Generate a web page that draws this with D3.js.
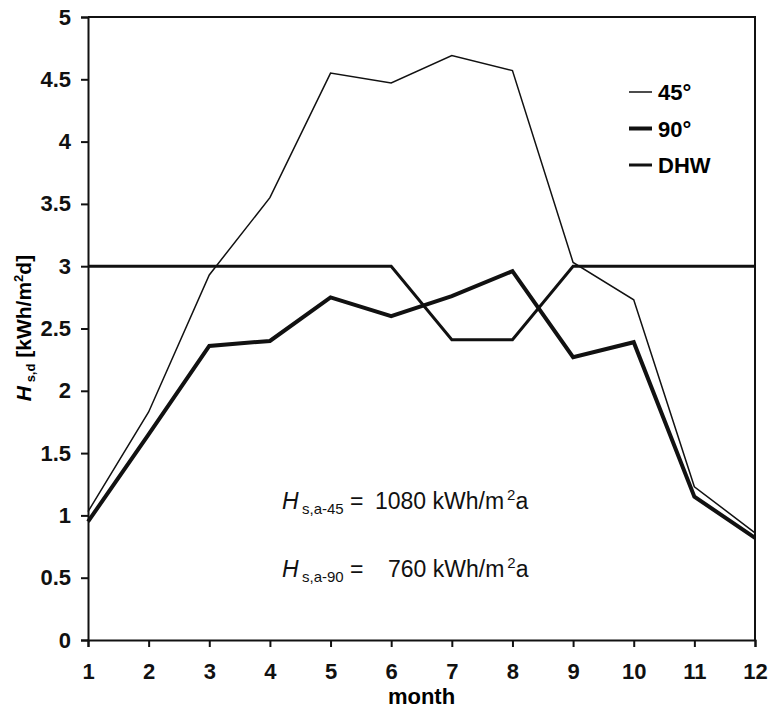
<!DOCTYPE html>
<html>
<head>
<meta charset="utf-8">
<script src="https://cdn.jsdelivr.net/npm/d3@7"></script>
<style>
  body { margin: 0; background: #fff; }
  text { font-family: "Liberation Sans", Arial, sans-serif; }
</style>
</head>
<body>
<svg width="769" height="708"></svg>
<script>
// data
const months = [1, 2, 3, 4, 5, 6, 7, 8, 9, 10, 11, 12]
const tilt45 = [1.03, 1.83, 2.93, 3.55, 4.55, 4.47, 4.69, 4.57, 3.03, 2.73, 1.23, 0.86]
const tilt90 = [0.95, 1.65, 2.36, 2.40, 2.75, 2.60, 2.76, 2.96, 2.27, 2.39, 1.15, 0.82]
const dhw = [3, 3, 3, 3, 3, 3, 2.41, 2.41, 3, 3, 3, 3]
const yTicks = [0, 0.5, 1, 1.5, 2, 2.5, 3, 3.5, 4, 4.5, 5]
const seriesNames = ["45°", "90°", "DHW"]

let svg = d3.select("svg")

let x = d3.scaleLinear().domain([1, 12]).range([88, 755])
let y = d3.scaleLinear().domain([0, 5]).range([640, 17])

// frame: top + right
svg.append("path")
  .attr("d", "M" + x(1) + "," + y(5) + "H" + x(12) + "V" + y(0))
  .attr("fill", "none")
  .attr("stroke", "#111")
  .attr("stroke-width", 2)

// y axis
let yAxis = svg.append("g")
  .attr("transform", "translate(" + x(1) + ",0)")
  .call(d3.axisLeft(y).tickValues(yTicks).tickSize(7).tickPadding(10)
    .tickFormat(d => d))
yAxis.select(".domain").attr("stroke-width", 2).attr("stroke", "#111")
yAxis.selectAll(".tick line").attr("stroke-width", 2).attr("stroke", "#111")
yAxis.selectAll("text")
  .attr("font-size", "22px")
  .attr("font-weight", "bold")
  .attr("fill", "#111")
  .attr("font-family", "Liberation Sans, Arial, sans-serif")

// x axis
let xAxis = svg.append("g")
  .attr("transform", "translate(0," + y(0) + ")")
  .call(d3.axisBottom(x).tickValues(months).tickSize(7).tickPadding(16)
    .tickFormat(d => d))
xAxis.select(".domain").attr("stroke-width", 2).attr("stroke", "#111")
xAxis.selectAll(".tick line").attr("stroke-width", 2).attr("stroke", "#111")
xAxis.selectAll("text")
  .attr("font-size", "22px")
  .attr("font-weight", "bold")
  .attr("fill", "#111")
  .attr("font-family", "Liberation Sans, Arial, sans-serif")

svg.append("text")
  .attr("x", (x(1) + x(12)) / 2)
  .attr("y", 704)
  .attr("text-anchor", "middle")
  .attr("font-size", "22px")
  .attr("font-weight", "bold")
  .text("month")

// y label
let yl = svg.append("text")
  .attr("transform", "translate(31,328) rotate(-90)")
  .attr("text-anchor", "middle")
  .attr("font-size", "21px")
  .attr("font-weight", "bold")
yl.append("tspan").attr("font-style", "italic").text("H")
yl.append("tspan").attr("font-size", "13px").attr("dy", 4).text(" s,d")
yl.append("tspan").attr("dy", -4).text(" [kWh/m")
yl.append("tspan").attr("font-size", "13px").attr("dy", -8).text("2")
yl.append("tspan").attr("dy", 8).text("d]")

// lines
let line = d3.line().x((d, i) => x(months[i])).y(d => y(d))
let series = [
  {name: seriesNames[0], values: tilt45, width: 1.5},
  {name: seriesNames[1], values: tilt90, width: 4},
  {name: seriesNames[2], values: dhw, width: 3}
]

svg.append("g")
  .selectAll("path")
  .data(series)
  .join("path")
  .attr("d", d => line(d.values))
  .attr("fill", "none")
  .attr("stroke", "#111")
  .attr("stroke-width", d => d.width)
  .attr("stroke-linejoin", "miter")

// legend
let legend = svg.append("g")
  .selectAll("g")
  .data(series)
  .join("g")
  .attr("transform", (d, i) => "translate(629," + (92 + i * 36.5) + ")")
legend.append("line")
  .attr("x1", 0).attr("x2", 23)
  .attr("stroke", "#111")
  .attr("stroke-width", d => d.width)
legend.append("text")
  .attr("x", 29)
  .attr("y", 8)
  .attr("font-size", "22px")
  .attr("font-weight", "bold")
  .text(d => d.name)

// annual totals
let notes = [
  {sub: "s,a-45", val: "1080 kWh/m", vx: 375, yy: 509},
  {sub: "s,a-90", val: "760 kWh/m", vx: 388, yy: 577}
]
notes.forEach(n => {
  let g = svg.append("g").attr("font-size", "23px").attr("fill", "#111")
  g.append("text").attr("x", 282).attr("y", n.yy)
    .attr("font-style", "italic").text("H")
  g.append("text").attr("x", 302).attr("y", n.yy + 5)
    .attr("font-size", "15px").text(n.sub)
  g.append("text").attr("x", 350).attr("y", n.yy).text("=")
  let t = g.append("text").attr("x", n.vx).attr("y", n.yy)
  t.append("tspan").text(n.val)
  t.append("tspan").attr("font-size", "15px").attr("dx", 3).attr("dy", -9).text("2")
  t.append("tspan").attr("dy", 9).text("a")
})
</script>
</body>
</html>
